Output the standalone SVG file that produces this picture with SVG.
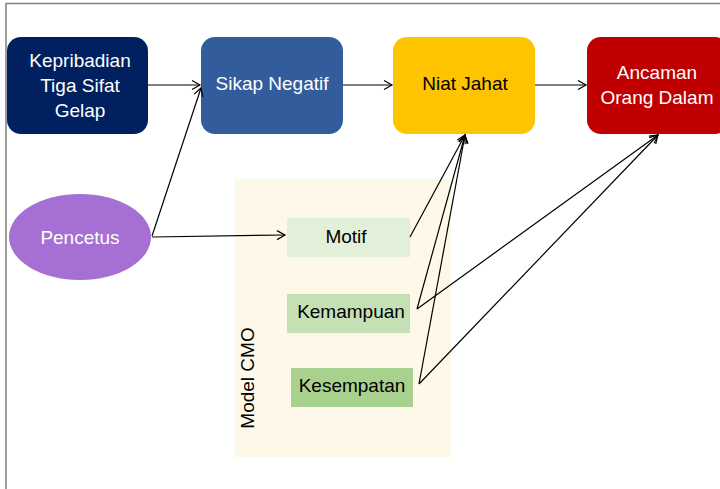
<svg xmlns="http://www.w3.org/2000/svg" width="720" height="489" viewBox="0 0 720 489">
<defs>
<style>
.t{font-family:"Liberation Sans",Arial,sans-serif;font-size:19px;text-anchor:middle}
.w{fill:#ffffff}
.k{fill:#000000}
.c{fill:none;stroke:#000;stroke-width:1.2}
</style>
<marker id="ah" markerWidth="12" markerHeight="12" refX="9" refY="5" orient="auto" markerUnits="userSpaceOnUse">
<path d="M1,0.5 L9,5 L1,9.5" fill="none" stroke="#000" stroke-width="1.2"/>
</marker>
</defs>
<rect x="0" y="0" width="720" height="489" fill="#ffffff"/>
<path d="M6,489 L6,3.5 L720,3.5" fill="none" stroke="#7f7f7f" stroke-width="1.5"/>
<g id="cmo-bg">
<rect x="235" y="179" width="216" height="278" fill="#fdf8e8"/>
<text class="t k" transform="translate(254,378) rotate(-90)">Model CMO</text>
</g>
<g id="kepribadian">
<rect x="7" y="37" width="141" height="97" rx="14" fill="#002060"/>
<text class="t w" x="80" y="67">Kepribadian</text>
<text class="t w" x="80" y="92">Tiga Sifat</text>
<text class="t w" x="80" y="117">Gelap</text>
</g>
<g id="sikap">
<rect x="201" y="37" width="142" height="97" rx="14" fill="#335c9c"/>
<text class="t w" x="272" y="90">Sikap Negatif</text>
</g>
<g id="niat">
<rect x="393" y="37" width="142" height="97" rx="14" fill="#ffc400"/>
<text class="t k" x="465" y="90">Niat Jahat</text>
</g>
<g id="ancaman">
<rect x="587" y="37" width="142" height="97" rx="14" fill="#c00000"/>
<text class="t w" x="657" y="79">Ancaman</text>
<text class="t w" x="657" y="104">Orang Dalam</text>
</g>
<g id="pencetus">
<ellipse cx="80" cy="237" rx="71" ry="43" fill="#a66fd4"/>
<text class="t w" x="80" y="244">Pencetus</text>
</g>
<g id="motif">
<rect x="287" y="218" width="123" height="39" fill="#e2f0d9"/>
<text class="t k" x="346" y="243">Motif</text>
</g>
<g id="kemampuan">
<rect x="287" y="294" width="123" height="39" fill="#c5e0b4"/>
<text class="t k" x="351" y="318">Kemampuan</text>
</g>
<g id="kesempatan">
<rect x="291" y="368" width="122" height="39" fill="#a9d18e"/>
<text class="t k" x="352" y="392">Kesempatan</text>
</g>
<g id="connectors">
<line class="c" x1="148" y1="85" x2="200" y2="85" marker-end="url(#ah)"/>
<line class="c" x1="152" y1="236" x2="201" y2="88" marker-end="url(#ah)"/>
<line class="c" x1="152" y1="237" x2="285" y2="235" marker-end="url(#ah)"/>
<line class="c" x1="343" y1="85" x2="392" y2="85" marker-end="url(#ah)"/>
<line class="c" x1="535" y1="85" x2="586" y2="85" marker-end="url(#ah)"/>
<line class="c" x1="410" y1="237" x2="465" y2="135" marker-end="url(#ah)"/>
<line class="c" x1="417" y1="309" x2="465" y2="135" marker-end="url(#ah)"/>
<line class="c" x1="419" y1="384" x2="465" y2="135" marker-end="url(#ah)"/>
<line class="c" x1="417" y1="309" x2="658" y2="135" marker-end="url(#ah)"/>
<line class="c" x1="419" y1="384" x2="658" y2="135" marker-end="url(#ah)"/>
</g>
</svg>
